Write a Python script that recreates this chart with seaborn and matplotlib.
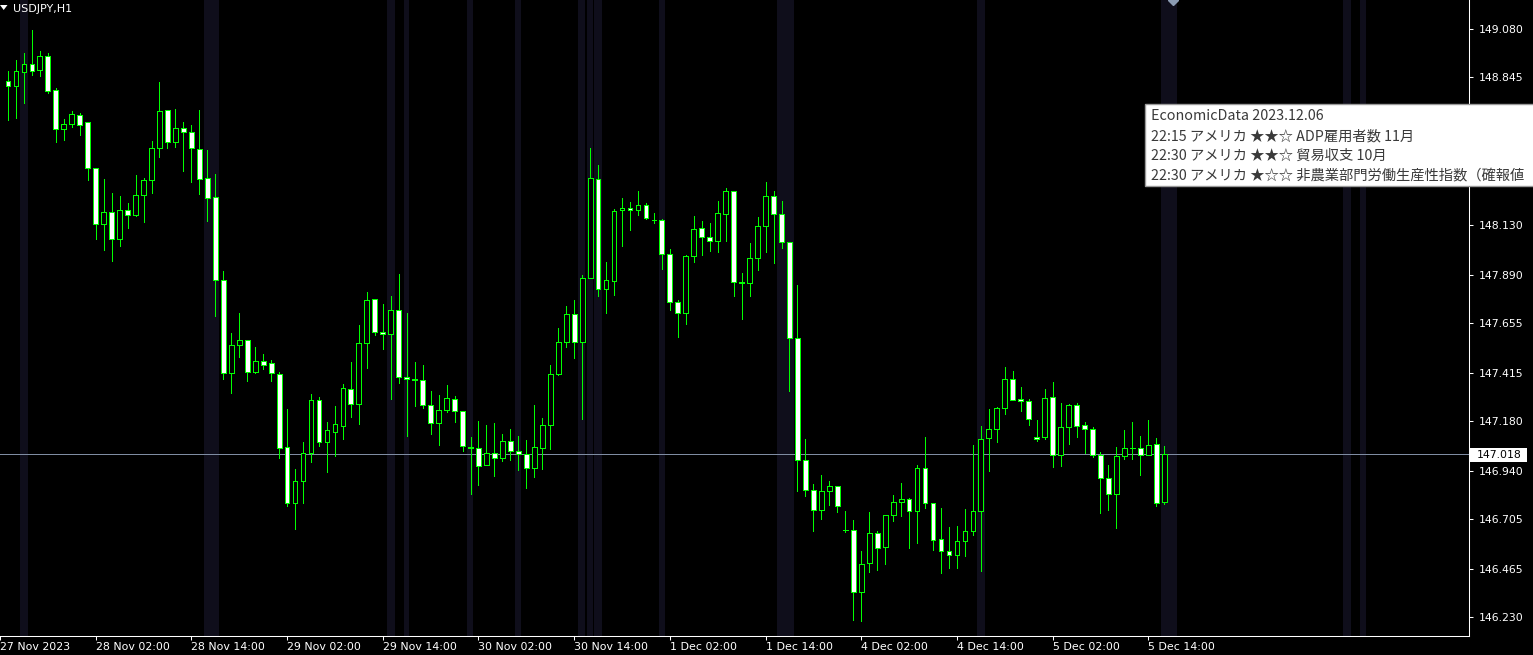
import numpy as np
import matplotlib
matplotlib.use("Agg")
import matplotlib.pyplot as plt
from matplotlib.patches import Rectangle, Polygon
import seaborn as sns

# ---------------- data (USDJPY H1) ----------------
opens = [148.827, 148.805, 148.873, 148.909, 148.880, 148.948, 148.783, 148.597, 148.618, 148.662,
         148.628, 148.405, 148.133, 148.192, 148.061, 148.201, 148.177, 148.274, 148.347, 148.502,
         148.686, 148.531, 148.599, 148.579, 148.497, 148.356, 148.264, 147.862, 147.411, 147.547,
         147.571, 147.416, 147.469, 147.460, 147.406, 147.053, 146.784, 146.888, 147.024, 147.280,
         147.080, 147.128, 147.157, 147.334, 147.261, 147.557, 147.770, 147.613, 147.600, 147.717,
         147.392, 147.382, 147.377, 147.256, 147.169, 147.232, 147.285, 147.227, 147.055, 147.048,
         146.965, 147.024, 146.999, 147.082, 147.033, 147.020, 146.951, 147.048, 147.159, 147.406,
         147.561, 147.697, 147.561, 147.872, 148.352, 147.818, 147.857, 148.201, 148.211, 148.201,
         148.226, 148.156, 148.153, 147.988, 147.755, 147.702, 147.978, 148.114, 148.070, 148.051,
         148.182, 148.293, 147.852, 147.847, 147.969, 148.124, 148.269, 148.182, 148.046, 147.581,
         146.990, 146.844, 146.750, 146.839, 146.864, 146.652, 146.650, 146.350, 146.493, 146.636,
         146.571, 146.723, 146.786, 146.801, 146.742, 146.951, 146.781, 146.607, 146.548, 146.529,
         146.597, 146.645, 146.742, 147.096, 147.140, 147.242, 147.382, 147.285, 147.276, 147.104,
         147.101, 147.295, 147.014, 147.150, 147.256, 147.159, 147.140, 147.014, 146.902, 146.825,
         147.009, 147.048, 147.048, 147.014, 147.067, 146.786]
highs = [148.877, 148.930, 148.962, 149.075, 148.973, 148.964, 148.794, 148.644, 148.683, 148.673,
         148.631, 148.405, 148.353, 148.285, 148.271, 148.237, 148.372, 148.358, 148.537, 148.823,
         148.686, 148.692, 148.629, 148.615, 148.687, 148.494, 148.377, 147.907, 147.607, 147.703,
         147.571, 147.539, 147.505, 147.476, 147.416, 147.238, 146.947, 147.078, 147.311, 147.296,
         147.174, 147.251, 147.359, 147.465, 147.644, 147.804, 147.770, 147.746, 147.784, 147.891,
         147.702, 147.465, 147.450, 147.324, 147.305, 147.355, 147.301, 147.227, 147.102, 147.180,
         147.161, 147.170, 147.117, 147.141, 147.107, 147.088, 147.258, 147.195, 147.451, 147.631,
         147.737, 147.766, 147.886, 148.503, 148.421, 147.951, 148.206, 148.259, 148.242, 148.295,
         148.235, 148.187, 148.158, 148.012, 147.765, 147.985, 148.174, 148.149, 148.140, 148.246,
         148.309, 148.293, 147.897, 148.043, 148.169, 148.338, 148.295, 148.246, 148.046, 147.839,
         147.093, 146.875, 146.918, 146.888, 146.864, 146.744, 146.700, 146.550, 146.739, 146.645,
         146.723, 146.820, 146.880, 146.805, 146.967, 147.101, 146.781, 146.758, 146.666, 146.671,
         146.753, 147.064, 147.156, 147.237, 147.246, 147.442, 147.422, 147.345, 147.285, 147.185,
         147.335, 147.369, 147.267, 147.261, 147.267, 147.175, 147.150, 147.028, 146.965, 147.053,
         147.136, 147.175, 147.107, 147.185, 147.098, 147.059]
lows = [148.639, 148.650, 148.723, 148.857, 148.854, 148.768, 148.534, 148.544, 148.606, 148.568,
        148.350, 148.062, 148.010, 147.957, 148.030, 148.117, 148.175, 148.146, 148.287, 148.461,
        148.505, 148.510, 148.393, 148.340, 148.282, 148.151, 147.690, 147.382, 147.314, 147.492,
        147.375, 147.411, 147.434, 147.375, 147.002, 146.770, 146.657, 146.784, 146.983, 147.060,
        146.934, 147.012, 147.094, 147.201, 147.167, 147.438, 147.595, 147.530, 147.288, 147.363,
        147.109, 147.254, 147.245, 147.118, 147.066, 147.222, 147.175, 147.036, 146.828, 146.871,
        146.965, 146.915, 146.985, 146.990, 146.941, 146.854, 146.907, 146.946, 147.043, 147.401,
        147.540, 147.487, 147.191, 147.872, 147.787, 147.705, 147.792, 148.030, 148.107, 148.180,
        148.158, 148.141, 147.918, 147.720, 147.589, 147.652, 147.952, 147.986, 148.005, 148.001,
        148.054, 147.787, 147.676, 147.787, 147.913, 148.001, 147.947, 148.020, 147.327, 146.842,
        146.818, 146.648, 146.707, 146.774, 146.740, 146.643, 146.217, 146.212, 146.450, 146.459,
        146.488, 146.697, 146.721, 146.566, 146.590, 146.760, 146.556, 146.445, 146.469, 146.469,
        146.527, 146.629, 146.454, 146.939, 147.077, 147.215, 147.280, 147.230, 147.162, 147.085,
        147.091, 146.959, 146.963, 147.070, 147.104, 147.026, 147.004, 146.736, 146.750, 146.663,
        146.994, 146.994, 146.917, 147.014, 146.767, 146.776]
closes = [148.805, 148.875, 148.909, 148.877, 148.948, 148.781, 148.597, 148.618, 148.667, 148.613,
          148.405, 148.133, 148.192, 148.061, 148.201, 148.177, 148.274, 148.347, 148.502, 148.681,
          148.531, 148.599, 148.579, 148.502, 148.352, 148.259, 147.862, 147.411, 147.547, 147.571,
          147.416, 147.469, 147.450, 147.411, 147.051, 146.784, 146.888, 147.024, 147.280, 147.080,
          147.135, 147.164, 147.339, 147.261, 147.557, 147.765, 147.610, 147.600, 147.717, 147.392,
          147.382, 147.377, 147.256, 147.169, 147.232, 147.290, 147.227, 147.057, 147.050, 146.960,
          147.024, 146.999, 147.082, 147.033, 147.020, 146.951, 147.053, 147.159, 147.406, 147.561,
          147.697, 147.561, 147.872, 148.356, 147.818, 147.862, 148.196, 148.211, 148.201, 148.226,
          148.163, 148.153, 147.988, 147.755, 147.702, 147.978, 148.109, 148.070, 148.051, 148.187,
          148.293, 147.852, 147.850, 147.969, 148.124, 148.269, 148.182, 148.046, 147.581, 146.990,
          146.844, 146.747, 146.839, 146.864, 146.767, 146.650, 146.350, 146.488, 146.636, 146.566,
          146.723, 146.786, 146.801, 146.742, 146.951, 146.781, 146.602, 146.548, 146.529, 146.597,
          146.645, 146.742, 147.091, 147.140, 147.242, 147.382, 147.280, 147.276, 147.188, 147.091,
          147.290, 147.014, 147.150, 147.256, 147.154, 147.140, 147.014, 146.902, 146.825, 147.009,
          147.048, 147.048, 147.014, 147.062, 146.781, 147.018]

time_tick_bars = [-1, 11, 23, 35, 47, 59, 71, 83, 95, 107, 119, 131, 143]
time_tick_labels = ["27 Nov 2023", "28 Nov 02:00", "28 Nov 14:00", "29 Nov 02:00", "29 Nov 14:00",
                    "30 Nov 02:00", "30 Nov 14:00", "1 Dec 02:00", "1 Dec 14:00", "4 Dec 02:00",
                    "4 Dec 14:00", "5 Dec 02:00", "5 Dec 14:00"]
# (148.610 and 148.370 lie under the tooltip in the reference)
price_ticks = [149.080, 148.845, 148.130, 147.890, 147.655, 147.415,
               147.180, 146.940, 146.705, 146.465, 146.230]
current_price = 147.018

# economic-event windows (in bar units)
event_start = [1.5, 24.55, 25.5, 47.5, 49.6, 57.6, 63.6, 71.46, 72.55, 73.46, 81.6, 96.46, 121.46, 144.6, 167.46, 169.55]
event_end   = [2.5, 25.45, 26.5, 48.5, 50.35, 58.35, 64.35, 72.42, 73.35, 74.46, 82.35, 98.6, 122.46, 146.6, 168.46, 170.3]
event_marker_bar = 146.15

tooltip_lines = ["EconomicData 2023.12.06",
                 "22:15 アメリカ ★★☆ ADP雇用者数 11月",
                 "22:30 アメリカ ★★☆ 貿易収支 10月",
                 "22:30 アメリカ ★☆☆ 非農業部門労働生産性指数（確報値"]

# ---------------- style ----------------
sns.set_theme(style="dark", rc={"axes.facecolor": "black", "figure.facecolor": "black",
                                "savefig.facecolor": "black"})
plt.rcParams["font.family"] = ["DejaVu Sans", "Noto Sans CJK JP"]

W, H = 1533, 655
fig = plt.figure(figsize=(W / 100, H / 100), dpi=100)
fig.patch.set_facecolor("black")

def fx(px):
    return px / W

def fy(py):
    return 1 - py / H

ax = fig.add_axes([0, fy(636), fx(1469), 636 / H])
ax.set_facecolor("black")

GREEN = "#00ff00"
BAND = "#0f0e1b"

for s, e in zip(event_start, event_end):
    ax.axvspan(s, e, color=BAND, lw=0, zorder=0)

ax.axhline(current_price, color="#7f8ca2", lw=0.7, zorder=1, antialiased=False)

idx = np.arange(len(opens))
o = np.array(opens); c = np.array(closes)
hi = np.array(highs); lo = np.array(lows)

ax.vlines(idx, lo, hi, color=GREEN, lw=0.72, zorder=2, antialiased=False)
bottoms = np.minimum(o, c)
heights = np.abs(c - o)
faces = ["white" if cc < oo else "black" for oo, cc in zip(o, c)]
ax.bar(idx, heights, bottom=bottoms, width=0.6, color=faces, edgecolor=GREEN,
       linewidth=0.72, zorder=3, antialiased=False)

ytop, ybot = 149.2206, 146.1379
ax.set_ylim(ybot, ytop)
ax.set_xlim(-0.4125, 183.21)

ax.plot([event_marker_bar], [ytop], marker="D", ms=5.5, color="#8b9bb2", zorder=4, clip_on=True)

# axes / ticks
for side in ["left", "top"]:
    ax.spines[side].set_visible(False)
for side in ["right", "bottom"]:
    ax.spines[side].set_visible(True)
    ax.spines[side].set_color("white")
    ax.spines[side].set_linewidth(0.75)
ax.grid(False)

ax.yaxis.tick_right()
ax.set_yticks(price_ticks)
ax.set_yticklabels([f"{v:.3f}" for v in price_ticks])
ax.tick_params(axis="y", right=True, left=False, labelright=True, labelleft=False,
               length=3, width=0.75, color="white", labelcolor="white", labelsize=7.8, pad=4)
ax.set_xticks(time_tick_bars)
ax.set_xticklabels(time_tick_labels)
ax.tick_params(axis="x", bottom=True, length=3, width=0.75, color="white",
               labelcolor="white", labelsize=7.9, pad=1.5)
for lab in ax.get_xticklabels():
    lab.set_horizontalalignment("left")

# current price label
fig.add_artist(Rectangle((fx(1470), fy(461.5)), (1527 - 1470) / W, 13.5 / H,
                         transform=fig.transFigure, fc="white", ec="none", zorder=5))
fig.text(fx(1476.5), fy(454.5), f"{current_price:.3f}", color="black", fontsize=7.8,
         va="center", ha="left", zorder=6)

# top-left symbol
fig.add_artist(Polygon([(fx(0), fy(5)), (fx(7.5), fy(5)), (fx(3.7), fy(10))], closed=True,
                       transform=fig.transFigure, fc="white", ec="none", zorder=5))
fig.text(fx(13), fy(8.5), "USDJPY,H1", color="white", fontsize=8, va="center", ha="left", zorder=6)

# tooltip
fig.add_artist(Rectangle((fx(1144.5), fy(186)), (W + 20 - 1144.5) / W, (186 - 103.5) / H,
                         transform=fig.transFigure, fc="white", ec="#9a9a9a", lw=1, zorder=7))
for i, line in enumerate(tooltip_lines):
    fig.text(fx(1151), fy(116.5 + 19.8 * i), line, color="#3a3a3a", fontsize=10.3,
             family=["Noto Sans CJK JP", "DejaVu Sans"], va="center", ha="left", zorder=8)

fig.savefig("out.png", dpi=100, facecolor="black")
